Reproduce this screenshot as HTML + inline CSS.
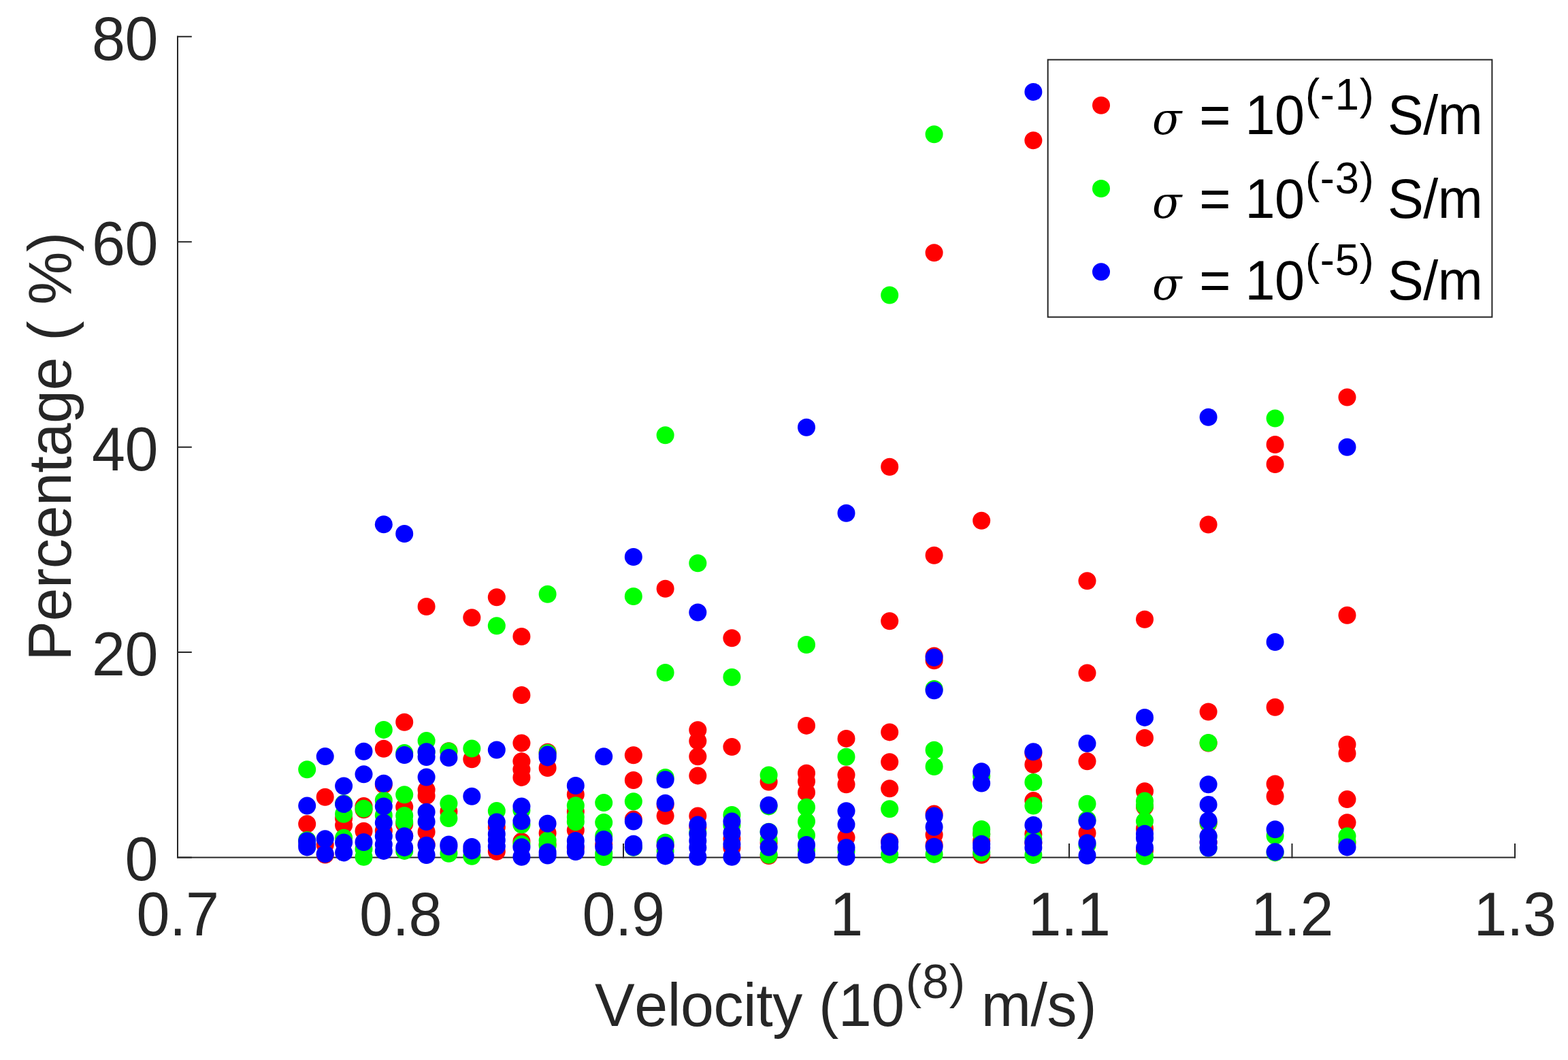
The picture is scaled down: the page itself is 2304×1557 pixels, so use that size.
<!DOCTYPE html>
<html lang="en"><head><meta charset="utf-8"><title>Percentage vs Velocity</title>
<style>html,body{margin:0;padding:0;background:#fff}body{width:2304px;height:1557px;overflow:hidden}svg{display:block}text{font-family:"Liberation Sans",Arial,Helvetica,sans-serif;font-kerning:none;white-space:pre}.t{font-size:88px;fill:#262626}.l{font-size:79.2px;fill:#000}.sg{font-family:"DejaVu Serif",serif;font-style:italic}</style></head><body>
<svg width="2304" height="1557" viewBox="0 0 2304 1557">
<rect width="2304" height="1557" fill="#fff"/>
<g stroke="#262626" stroke-width="2" fill="none">
<path d="M261 52.8V1260.5M260 1259.5H2227"/>
<path d="M588.5 1260.5v-21.6M916 1260.5v-21.6M1243.5 1260.5v-21.6M1571 1260.5v-21.6M1898.5 1260.5v-21.6M2226 1260.5v-21.6M260 1259.5h21.8M260 958.08h21.8M260 656.65h21.8M260 355.22h21.8M260 53.8h21.8"/>
</g>
<g class="t" transform="scale(1 1.03)">
<g text-anchor="middle" letter-spacing="-0.5">
<text x="261" y="1334.17">0.7</text>
<text x="588.5" y="1334.17">0.8</text>
<text x="916" y="1334.17">0.9</text>
<text x="1243.5" y="1334.17">1</text>
<text x="1571" y="1334.17">1.1</text>
<text x="1898.5" y="1334.17">1.2</text>
<text x="2226" y="1334.17">1.3</text>
</g>
<g text-anchor="end" letter-spacing="-0.5">
<text x="231.9" y="1255.73">0</text>
<text x="231.9" y="963.08">20</text>
<text x="231.9" y="670.44">40</text>
<text x="231.9" y="377.79">60</text>
<text x="231.9" y="85.15">80</text>
</g>
</g>
<g class="t" transform="scale(1 1.012)">
<text letter-spacing="-0.4"><tspan x="874" y="1489.53">Velocity (10</tspan><tspan x="1330.8" y="1448.81" font-size="70.4" letter-spacing="0.7">(8)</tspan><tspan x="1417.6" y="1489.53"> m/s)</tspan></text>
</g>
<text class="t" transform="translate(104.4 656) rotate(-90) scale(1 1.012)" text-anchor="middle" letter-spacing="-0.4">Percentage ( %)</text>
<g fill="#f00">
<circle cx="451.2" cy="1210.3" r="13"/>
<circle cx="477.7" cy="1170.7" r="13"/>
<circle cx="477.7" cy="1241" r="13"/>
<circle cx="477.7" cy="1255.5" r="13"/>
<circle cx="505.1" cy="1202" r="13"/>
<circle cx="505.1" cy="1212.3" r="13"/>
<circle cx="534.5" cy="1184.1" r="13"/>
<circle cx="534.5" cy="1189.3" r="13"/>
<circle cx="534.5" cy="1220.7" r="13"/>
<circle cx="563.8" cy="1099.8" r="13"/>
<circle cx="563.8" cy="1152.7" r="13"/>
<circle cx="563.8" cy="1220.3" r="13"/>
<circle cx="594.2" cy="1060.7" r="13"/>
<circle cx="594.2" cy="1185.3" r="13"/>
<circle cx="594.2" cy="1210.3" r="13"/>
<circle cx="594.2" cy="1227.8" r="13"/>
<circle cx="626.6" cy="891" r="13"/>
<circle cx="626.6" cy="1160.2" r="13"/>
<circle cx="626.6" cy="1168.9" r="13"/>
<circle cx="626.6" cy="1222" r="13"/>
<circle cx="626.6" cy="1240.4" r="13"/>
<circle cx="659.4" cy="1103.2" r="13"/>
<circle cx="659.4" cy="1192" r="13"/>
<circle cx="693.3" cy="907.3" r="13"/>
<circle cx="693.3" cy="1115.2" r="13"/>
<circle cx="729.8" cy="877.3" r="13"/>
<circle cx="729.8" cy="1215" r="13"/>
<circle cx="729.8" cy="1250.7" r="13"/>
<circle cx="766.4" cy="935" r="13"/>
<circle cx="766.4" cy="1021" r="13"/>
<circle cx="766.4" cy="1091.4" r="13"/>
<circle cx="766.4" cy="1118.2" r="13"/>
<circle cx="766.4" cy="1130.2" r="13"/>
<circle cx="766.4" cy="1141.9" r="13"/>
<circle cx="766.4" cy="1235.9" r="13"/>
<circle cx="804.6" cy="1104.8" r="13"/>
<circle cx="804.6" cy="1128" r="13"/>
<circle cx="804.6" cy="1223.7" r="13"/>
<circle cx="804.6" cy="1240" r="13"/>
<circle cx="845.8" cy="1166.9" r="13"/>
<circle cx="845.8" cy="1192" r="13"/>
<circle cx="845.8" cy="1219.5" r="13"/>
<circle cx="845.8" cy="1245.4" r="13"/>
<circle cx="887.2" cy="1240.4" r="13"/>
<circle cx="930.8" cy="1109.3" r="13"/>
<circle cx="930.8" cy="1146" r="13"/>
<circle cx="930.8" cy="1203.6" r="13"/>
<circle cx="977.6" cy="864.7" r="13"/>
<circle cx="977.6" cy="1182" r="13"/>
<circle cx="977.6" cy="1198.6" r="13"/>
<circle cx="977.6" cy="1242" r="13"/>
<circle cx="1025.3" cy="1072.3" r="13"/>
<circle cx="1025.3" cy="1088.4" r="13"/>
<circle cx="1025.3" cy="1111.3" r="13"/>
<circle cx="1025.3" cy="1139.4" r="13"/>
<circle cx="1025.3" cy="1198.6" r="13"/>
<circle cx="1025.3" cy="1215" r="13"/>
<circle cx="1075.4" cy="937.3" r="13"/>
<circle cx="1075.4" cy="1097.1" r="13"/>
<circle cx="1075.4" cy="1232" r="13"/>
<circle cx="1075.4" cy="1245.4" r="13"/>
<circle cx="1129.6" cy="1148.5" r="13"/>
<circle cx="1129.6" cy="1238" r="13"/>
<circle cx="1129.6" cy="1257" r="13"/>
<circle cx="1185" cy="1065.9" r="13"/>
<circle cx="1185" cy="1135.7" r="13"/>
<circle cx="1185" cy="1147.7" r="13"/>
<circle cx="1185" cy="1163.9" r="13"/>
<circle cx="1243.5" cy="1084.9" r="13"/>
<circle cx="1243.5" cy="1138.2" r="13"/>
<circle cx="1243.5" cy="1152.2" r="13"/>
<circle cx="1243.5" cy="1230.3" r="13"/>
<circle cx="1307.2" cy="685.8" r="13"/>
<circle cx="1307.2" cy="912.3" r="13"/>
<circle cx="1307.2" cy="1075.4" r="13"/>
<circle cx="1307.2" cy="1119.3" r="13"/>
<circle cx="1307.2" cy="1158.2" r="13"/>
<circle cx="1307.2" cy="1236.2" r="13"/>
<circle cx="1372.6" cy="371.3" r="13"/>
<circle cx="1372.6" cy="815.8" r="13"/>
<circle cx="1372.6" cy="963.5" r="13"/>
<circle cx="1372.6" cy="970.3" r="13"/>
<circle cx="1372.6" cy="1195.6" r="13"/>
<circle cx="1372.6" cy="1226.2" r="13"/>
<circle cx="1372.6" cy="1241" r="13"/>
<circle cx="1442.2" cy="764.8" r="13"/>
<circle cx="1442.2" cy="1225" r="13"/>
<circle cx="1442.2" cy="1235" r="13"/>
<circle cx="1442.2" cy="1255.7" r="13"/>
<circle cx="1518.4" cy="206.3" r="13"/>
<circle cx="1518.4" cy="1106.5" r="13"/>
<circle cx="1518.4" cy="1123" r="13"/>
<circle cx="1518.4" cy="1176.1" r="13"/>
<circle cx="1518.4" cy="1225" r="13"/>
<circle cx="1518.4" cy="1238" r="13"/>
<circle cx="1597.5" cy="853.3" r="13"/>
<circle cx="1597.5" cy="988.5" r="13"/>
<circle cx="1597.5" cy="1118.2" r="13"/>
<circle cx="1597.5" cy="1223.7" r="13"/>
<circle cx="1682" cy="909.8" r="13"/>
<circle cx="1682" cy="1083.9" r="13"/>
<circle cx="1682" cy="1162.2" r="13"/>
<circle cx="1682" cy="1185" r="13"/>
<circle cx="1682" cy="1217" r="13"/>
<circle cx="1682" cy="1249" r="13"/>
<circle cx="1775.6" cy="770.5" r="13"/>
<circle cx="1775.6" cy="1045.5" r="13"/>
<circle cx="1775.6" cy="1091.5" r="13"/>
<circle cx="1775.6" cy="1209.5" r="13"/>
<circle cx="1775.6" cy="1237.5" r="13"/>
<circle cx="1873.6" cy="653" r="13"/>
<circle cx="1873.6" cy="682" r="13"/>
<circle cx="1873.6" cy="1038.7" r="13"/>
<circle cx="1873.6" cy="1151.4" r="13"/>
<circle cx="1873.6" cy="1169.7" r="13"/>
<circle cx="1979.5" cy="583.5" r="13"/>
<circle cx="1979.5" cy="903.8" r="13"/>
<circle cx="1979.5" cy="1093.4" r="13"/>
<circle cx="1979.5" cy="1106.8" r="13"/>
<circle cx="1979.5" cy="1174.1" r="13"/>
<circle cx="1979.5" cy="1208.3" r="13"/>
<circle cx="1979.5" cy="1238" r="13"/>
</g>
<g fill="#0f0">
<circle cx="451.2" cy="1130.2" r="13"/>
<circle cx="451.2" cy="1234" r="13"/>
<circle cx="505.1" cy="1180.3" r="13"/>
<circle cx="505.1" cy="1195.7" r="13"/>
<circle cx="505.1" cy="1230.8" r="13"/>
<circle cx="534.5" cy="1187.8" r="13"/>
<circle cx="534.5" cy="1247" r="13"/>
<circle cx="534.5" cy="1258.7" r="13"/>
<circle cx="563.8" cy="1071.9" r="13"/>
<circle cx="563.8" cy="1175.8" r="13"/>
<circle cx="563.8" cy="1197.8" r="13"/>
<circle cx="594.2" cy="1106.1" r="13"/>
<circle cx="594.2" cy="1167.2" r="13"/>
<circle cx="594.2" cy="1198" r="13"/>
<circle cx="594.2" cy="1207" r="13"/>
<circle cx="594.2" cy="1249.9" r="13"/>
<circle cx="626.6" cy="1088.1" r="13"/>
<circle cx="626.6" cy="1105" r="13"/>
<circle cx="659.4" cy="1103.5" r="13"/>
<circle cx="659.4" cy="1180.3" r="13"/>
<circle cx="659.4" cy="1202" r="13"/>
<circle cx="659.4" cy="1253.7" r="13"/>
<circle cx="693.3" cy="1099.6" r="13"/>
<circle cx="693.3" cy="1257.7" r="13"/>
<circle cx="729.8" cy="919.2" r="13"/>
<circle cx="729.8" cy="1191.1" r="13"/>
<circle cx="766.4" cy="1190" r="13"/>
<circle cx="766.4" cy="1211.2" r="13"/>
<circle cx="766.4" cy="1240" r="13"/>
<circle cx="804.6" cy="872.8" r="13"/>
<circle cx="804.6" cy="1106" r="13"/>
<circle cx="804.6" cy="1234.5" r="13"/>
<circle cx="804.6" cy="1242" r="13"/>
<circle cx="845.8" cy="1183.3" r="13"/>
<circle cx="845.8" cy="1200" r="13"/>
<circle cx="845.8" cy="1207.3" r="13"/>
<circle cx="887.2" cy="1179.1" r="13"/>
<circle cx="887.2" cy="1208.1" r="13"/>
<circle cx="887.2" cy="1227.8" r="13"/>
<circle cx="887.2" cy="1253.7" r="13"/>
<circle cx="887.2" cy="1259" r="13"/>
<circle cx="930.8" cy="876" r="13"/>
<circle cx="930.8" cy="1177.3" r="13"/>
<circle cx="930.8" cy="1244.7" r="13"/>
<circle cx="977.6" cy="639.3" r="13"/>
<circle cx="977.6" cy="988" r="13"/>
<circle cx="977.6" cy="1142" r="13"/>
<circle cx="977.6" cy="1237.4" r="13"/>
<circle cx="977.6" cy="1250" r="13"/>
<circle cx="1025.3" cy="827.3" r="13"/>
<circle cx="1025.3" cy="1222.8" r="13"/>
<circle cx="1075.4" cy="994.8" r="13"/>
<circle cx="1075.4" cy="1197" r="13"/>
<circle cx="1075.4" cy="1212" r="13"/>
<circle cx="1129.6" cy="1138.5" r="13"/>
<circle cx="1129.6" cy="1184.4" r="13"/>
<circle cx="1129.6" cy="1221.7" r="13"/>
<circle cx="1129.6" cy="1233.7" r="13"/>
<circle cx="1129.6" cy="1255.7" r="13"/>
<circle cx="1185" cy="947" r="13"/>
<circle cx="1185" cy="1185.8" r="13"/>
<circle cx="1185" cy="1206.6" r="13"/>
<circle cx="1185" cy="1227" r="13"/>
<circle cx="1185" cy="1248.7" r="13"/>
<circle cx="1243.5" cy="1111.8" r="13"/>
<circle cx="1243.5" cy="1250.4" r="13"/>
<circle cx="1307.2" cy="433.5" r="13"/>
<circle cx="1307.2" cy="1188.3" r="13"/>
<circle cx="1307.2" cy="1255.4" r="13"/>
<circle cx="1372.6" cy="197.3" r="13"/>
<circle cx="1372.6" cy="1012" r="13"/>
<circle cx="1372.6" cy="1101.8" r="13"/>
<circle cx="1372.6" cy="1126" r="13"/>
<circle cx="1372.6" cy="1254.9" r="13"/>
<circle cx="1442.2" cy="1140" r="13"/>
<circle cx="1442.2" cy="1218" r="13"/>
<circle cx="1442.2" cy="1225" r="13"/>
<circle cx="1442.2" cy="1252.4" r="13"/>
<circle cx="1518.4" cy="1149" r="13"/>
<circle cx="1518.4" cy="1183.6" r="13"/>
<circle cx="1518.4" cy="1232" r="13"/>
<circle cx="1518.4" cy="1256" r="13"/>
<circle cx="1597.5" cy="1180.8" r="13"/>
<circle cx="1597.5" cy="1204" r="13"/>
<circle cx="1597.5" cy="1241.2" r="13"/>
<circle cx="1682" cy="1176.6" r="13"/>
<circle cx="1682" cy="1183.6" r="13"/>
<circle cx="1682" cy="1206.1" r="13"/>
<circle cx="1682" cy="1257.7" r="13"/>
<circle cx="1775.6" cy="1091" r="13"/>
<circle cx="1775.6" cy="1208.5" r="13"/>
<circle cx="1775.6" cy="1229.5" r="13"/>
<circle cx="1775.6" cy="1245.5" r="13"/>
<circle cx="1873.6" cy="614.5" r="13"/>
<circle cx="1873.6" cy="1227.8" r="13"/>
<circle cx="1873.6" cy="1252.4" r="13"/>
<circle cx="1979.5" cy="1228.3" r="13"/>
<circle cx="1979.5" cy="1236" r="13"/>
</g>
<g fill="#00f">
<circle cx="451.2" cy="1183.6" r="13"/>
<circle cx="451.2" cy="1235.3" r="13"/>
<circle cx="451.2" cy="1240" r="13"/>
<circle cx="451.2" cy="1244.4" r="13"/>
<circle cx="477.7" cy="1111.1" r="13"/>
<circle cx="477.7" cy="1232.2" r="13"/>
<circle cx="477.7" cy="1254.4" r="13"/>
<circle cx="505.1" cy="1154.5" r="13"/>
<circle cx="505.1" cy="1181.1" r="13"/>
<circle cx="505.1" cy="1237.5" r="13"/>
<circle cx="505.1" cy="1252.4" r="13"/>
<circle cx="534.5" cy="1103.8" r="13"/>
<circle cx="534.5" cy="1137.2" r="13"/>
<circle cx="534.5" cy="1237" r="13"/>
<circle cx="563.8" cy="770.3" r="13"/>
<circle cx="563.8" cy="1150.7" r="13"/>
<circle cx="563.8" cy="1184.4" r="13"/>
<circle cx="563.8" cy="1208.6" r="13"/>
<circle cx="563.8" cy="1228.3" r="13"/>
<circle cx="563.8" cy="1240.4" r="13"/>
<circle cx="563.8" cy="1249.9" r="13"/>
<circle cx="594.2" cy="784" r="13"/>
<circle cx="594.2" cy="1109" r="13"/>
<circle cx="594.2" cy="1228.3" r="13"/>
<circle cx="594.2" cy="1244.9" r="13"/>
<circle cx="626.6" cy="1104.3" r="13"/>
<circle cx="626.6" cy="1112.1" r="13"/>
<circle cx="626.6" cy="1141.5" r="13"/>
<circle cx="626.6" cy="1192.8" r="13"/>
<circle cx="626.6" cy="1207" r="13"/>
<circle cx="626.6" cy="1241.7" r="13"/>
<circle cx="626.6" cy="1256" r="13"/>
<circle cx="659.4" cy="1113" r="13"/>
<circle cx="659.4" cy="1240.5" r="13"/>
<circle cx="659.4" cy="1243.5" r="13"/>
<circle cx="693.3" cy="1169.7" r="13"/>
<circle cx="693.3" cy="1243.9" r="13"/>
<circle cx="693.3" cy="1249.4" r="13"/>
<circle cx="729.8" cy="1101.5" r="13"/>
<circle cx="729.8" cy="1207.5" r="13"/>
<circle cx="729.8" cy="1225" r="13"/>
<circle cx="729.8" cy="1234" r="13"/>
<circle cx="729.8" cy="1243.2" r="13"/>
<circle cx="766.4" cy="1184.4" r="13"/>
<circle cx="766.4" cy="1206.1" r="13"/>
<circle cx="766.4" cy="1244.2" r="13"/>
<circle cx="766.4" cy="1258.7" r="13"/>
<circle cx="804.6" cy="1108.6" r="13"/>
<circle cx="804.6" cy="1112.4" r="13"/>
<circle cx="804.6" cy="1209.8" r="13"/>
<circle cx="804.6" cy="1251.7" r="13"/>
<circle cx="804.6" cy="1256.5" r="13"/>
<circle cx="845.8" cy="1154" r="13"/>
<circle cx="845.8" cy="1235" r="13"/>
<circle cx="845.8" cy="1243" r="13"/>
<circle cx="845.8" cy="1251" r="13"/>
<circle cx="887.2" cy="1111.3" r="13"/>
<circle cx="887.2" cy="1233" r="13"/>
<circle cx="887.2" cy="1244" r="13"/>
<circle cx="930.8" cy="818" r="13"/>
<circle cx="930.8" cy="1206.6" r="13"/>
<circle cx="930.8" cy="1239.7" r="13"/>
<circle cx="930.8" cy="1244.4" r="13"/>
<circle cx="977.6" cy="1145.2" r="13"/>
<circle cx="977.6" cy="1179.8" r="13"/>
<circle cx="977.6" cy="1242" r="13"/>
<circle cx="977.6" cy="1257.4" r="13"/>
<circle cx="1025.3" cy="899.5" r="13"/>
<circle cx="1025.3" cy="1211.6" r="13"/>
<circle cx="1025.3" cy="1225" r="13"/>
<circle cx="1025.3" cy="1235" r="13"/>
<circle cx="1025.3" cy="1245" r="13"/>
<circle cx="1025.3" cy="1258.8" r="13"/>
<circle cx="1075.4" cy="1206.6" r="13"/>
<circle cx="1075.4" cy="1223.7" r="13"/>
<circle cx="1075.4" cy="1240" r="13"/>
<circle cx="1075.4" cy="1258.7" r="13"/>
<circle cx="1129.6" cy="1182.8" r="13"/>
<circle cx="1129.6" cy="1222" r="13"/>
<circle cx="1129.6" cy="1244.5" r="13"/>
<circle cx="1185" cy="627.8" r="13"/>
<circle cx="1185" cy="1240.9" r="13"/>
<circle cx="1185" cy="1255.7" r="13"/>
<circle cx="1243.5" cy="753.8" r="13"/>
<circle cx="1243.5" cy="1191.3" r="13"/>
<circle cx="1243.5" cy="1211.1" r="13"/>
<circle cx="1243.5" cy="1245" r="13"/>
<circle cx="1243.5" cy="1258.7" r="13"/>
<circle cx="1307.2" cy="1237" r="13"/>
<circle cx="1307.2" cy="1244" r="13"/>
<circle cx="1372.6" cy="965.8" r="13"/>
<circle cx="1372.6" cy="1014.3" r="13"/>
<circle cx="1372.6" cy="1198.6" r="13"/>
<circle cx="1372.6" cy="1214.8" r="13"/>
<circle cx="1372.6" cy="1243.7" r="13"/>
<circle cx="1442.2" cy="1133.2" r="13"/>
<circle cx="1442.2" cy="1150.5" r="13"/>
<circle cx="1442.2" cy="1239.7" r="13"/>
<circle cx="1442.2" cy="1244.9" r="13"/>
<circle cx="1518.4" cy="135" r="13"/>
<circle cx="1518.4" cy="1104.3" r="13"/>
<circle cx="1518.4" cy="1212" r="13"/>
<circle cx="1518.4" cy="1237.5" r="13"/>
<circle cx="1518.4" cy="1244.9" r="13"/>
<circle cx="1597.5" cy="1092.1" r="13"/>
<circle cx="1597.5" cy="1206.1" r="13"/>
<circle cx="1597.5" cy="1238.2" r="13"/>
<circle cx="1597.5" cy="1256.7" r="13"/>
<circle cx="1682" cy="1053.9" r="13"/>
<circle cx="1682" cy="1224.7" r="13"/>
<circle cx="1682" cy="1231.2" r="13"/>
<circle cx="1682" cy="1244.9" r="13"/>
<circle cx="1775.6" cy="612.8" r="13"/>
<circle cx="1775.6" cy="1152.2" r="13"/>
<circle cx="1775.6" cy="1181.9" r="13"/>
<circle cx="1775.6" cy="1205.4" r="13"/>
<circle cx="1775.6" cy="1228.3" r="13"/>
<circle cx="1775.6" cy="1237" r="13"/>
<circle cx="1775.6" cy="1245.5" r="13"/>
<circle cx="1873.6" cy="943" r="13"/>
<circle cx="1873.6" cy="1218.3" r="13"/>
<circle cx="1873.6" cy="1251.2" r="13"/>
<circle cx="1979.5" cy="656.8" r="13"/>
<circle cx="1979.5" cy="1244.4" r="13"/>
</g>
<rect x="1539.7" y="87.7" width="652.7" height="378" fill="#fff" stroke="#262626" stroke-width="2"/>
<circle cx="1618" cy="154.7" r="13" fill="#f00"/>
<circle cx="1618" cy="277" r="13" fill="#0f0"/>
<circle cx="1618" cy="399.2" r="13" fill="#00f"/>
<g class="l" transform="scale(1 1.03)" letter-spacing="-0.5">
<text><tspan class="sg" x="1693" y="191.65" font-size="63.5">σ</tspan><tspan x="1740.78" y="191.65"> = 10</tspan><tspan x="1917.9" y="156.41" font-size="63.4" letter-spacing="0.8">(-1)</tspan><tspan x="2017.5" y="191.65"> S/m</tspan></text>
<text><tspan class="sg" x="1693" y="310.97" font-size="63.5">σ</tspan><tspan x="1740.78" y="310.97"> = 10</tspan><tspan x="1917.9" y="275.73" font-size="63.4" letter-spacing="0.8">(-3)</tspan><tspan x="2017.5" y="310.97"> S/m</tspan></text>
<text><tspan class="sg" x="1693" y="427.28" font-size="63.5">σ</tspan><tspan x="1740.78" y="427.28"> = 10</tspan><tspan x="1917.9" y="392.04" font-size="63.4" letter-spacing="0.8">(-5)</tspan><tspan x="2017.5" y="427.28"> S/m</tspan></text>
</g>
</svg></body></html>
